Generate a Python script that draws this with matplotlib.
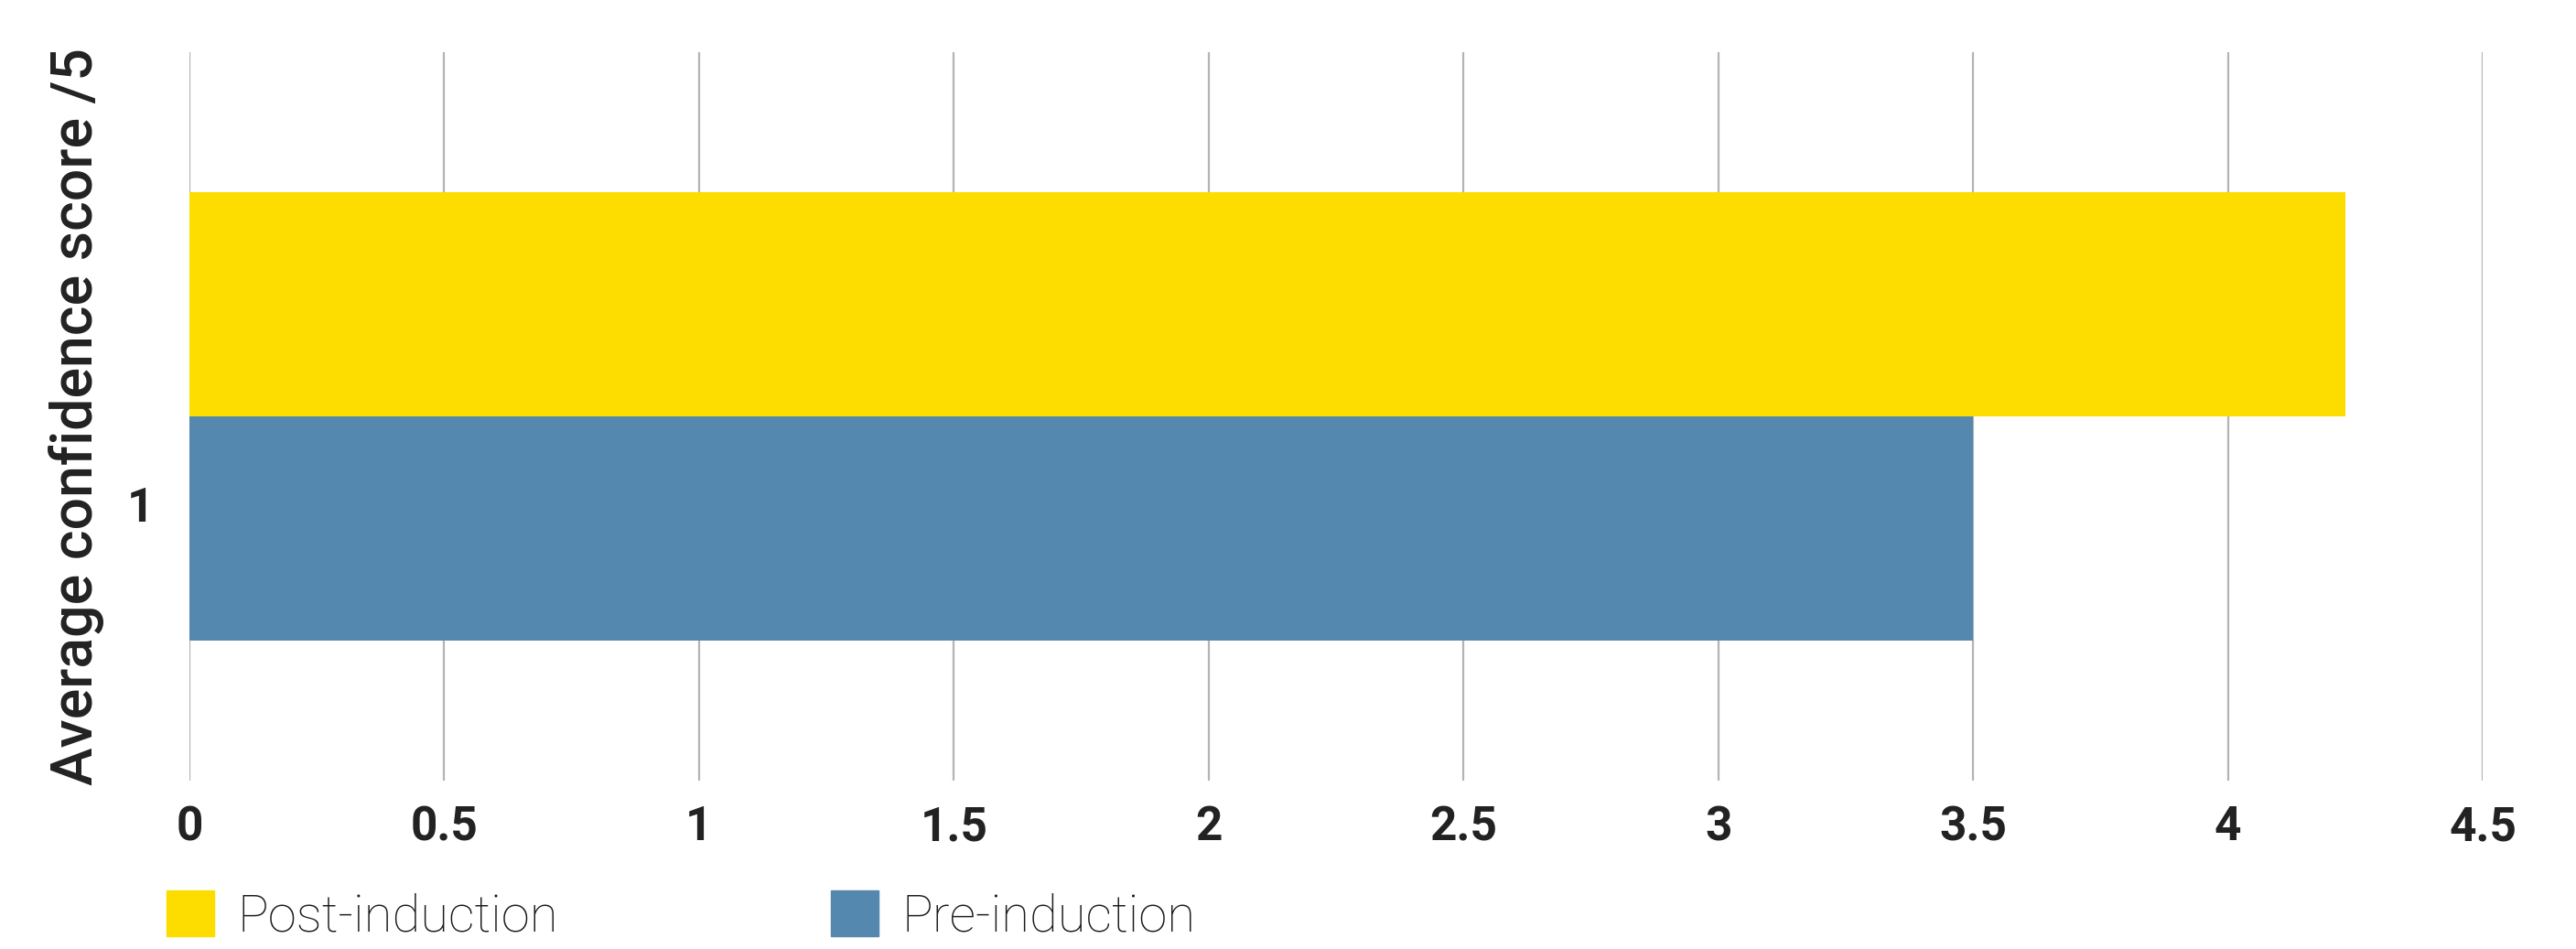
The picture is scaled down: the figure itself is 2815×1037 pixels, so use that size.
import matplotlib
matplotlib.use("Agg")
import matplotlib.pyplot as plt
import matplotlib.patches as patches

# data
categories = ["1"]
series_names = ["Post-induction", "Pre-induction"]
post_values = [4.23]
pre_values = [3.50]
colors = ["#FDDD00", "#5588AE"]
x_ticks = [0, 0.5, 1, 1.5, 2, 2.5, 3, 3.5, 4, 4.5]
x_tick_labels = ["0", "0.5", "1", "1.5", "2", "2.5", "3", "3.5", "4", "4.5"]

plt.rcParams['font.family'] = ['Roboto', 'DejaVu Sans']

fig = plt.figure(figsize=(28.15, 10.37), dpi=100)
ax = fig.add_axes([0.0735, 0.1774, 0.8903, 0.7676])

bar_h = 0.308
ypos = [1.0]
# Post-induction above, Pre-induction below
ax.barh([y + bar_h / 2 for y in ypos], post_values, height=bar_h,
        color=colors[0], zorder=3, label=series_names[0])
ax.barh([y - bar_h / 2 for y in ypos], pre_values, height=bar_h,
        color=colors[1], zorder=3, label=series_names[1])

ax.set_xlim(0, 4.5)
ax.set_ylim(0.5, 1.5)
ax.set_xticks(x_ticks)
ax.set_xticklabels(x_tick_labels, fontsize=37, fontweight='bold', color='#222222')
# category label sits a bit below the group centre in the original
ax.set_yticks([y - 0.12 for y in ypos])
ax.set_yticklabels(categories, fontsize=37, fontweight='bold', color='#222222')
ax.tick_params(axis='x', length=0, pad=19)
ax.tick_params(axis='y', length=0, pad=28)

ax.grid(axis='x', color='#b4b4b4', linewidth=1.6, zorder=0)
ax.grid(axis='y', visible=False)
for s in ax.spines.values():
    s.set_visible(False)

ax.set_ylabel("Average confidence score /5", fontsize=45, fontweight='medium',
              color='#222222')
ax.yaxis.set_label_coords(-0.037, 0.5)

handles = [patches.Patch(color=c, label=n) for c, n in zip(colors, series_names)]
leg = fig.legend(handles=handles, loc='center left', bbox_to_anchor=(0.0465, 0.035),
                 ncol=2, frameon=False, handlelength=0.93, handleheight=1.0,
                 handletextpad=0.45, columnspacing=5.3,
                 prop={'family': 'Roboto', 'weight': 'light', 'size': 40.5})
for t in leg.get_texts():
    t.set_color('#1a1a1a')

fig.savefig("out.png", dpi=100, facecolor='white')
